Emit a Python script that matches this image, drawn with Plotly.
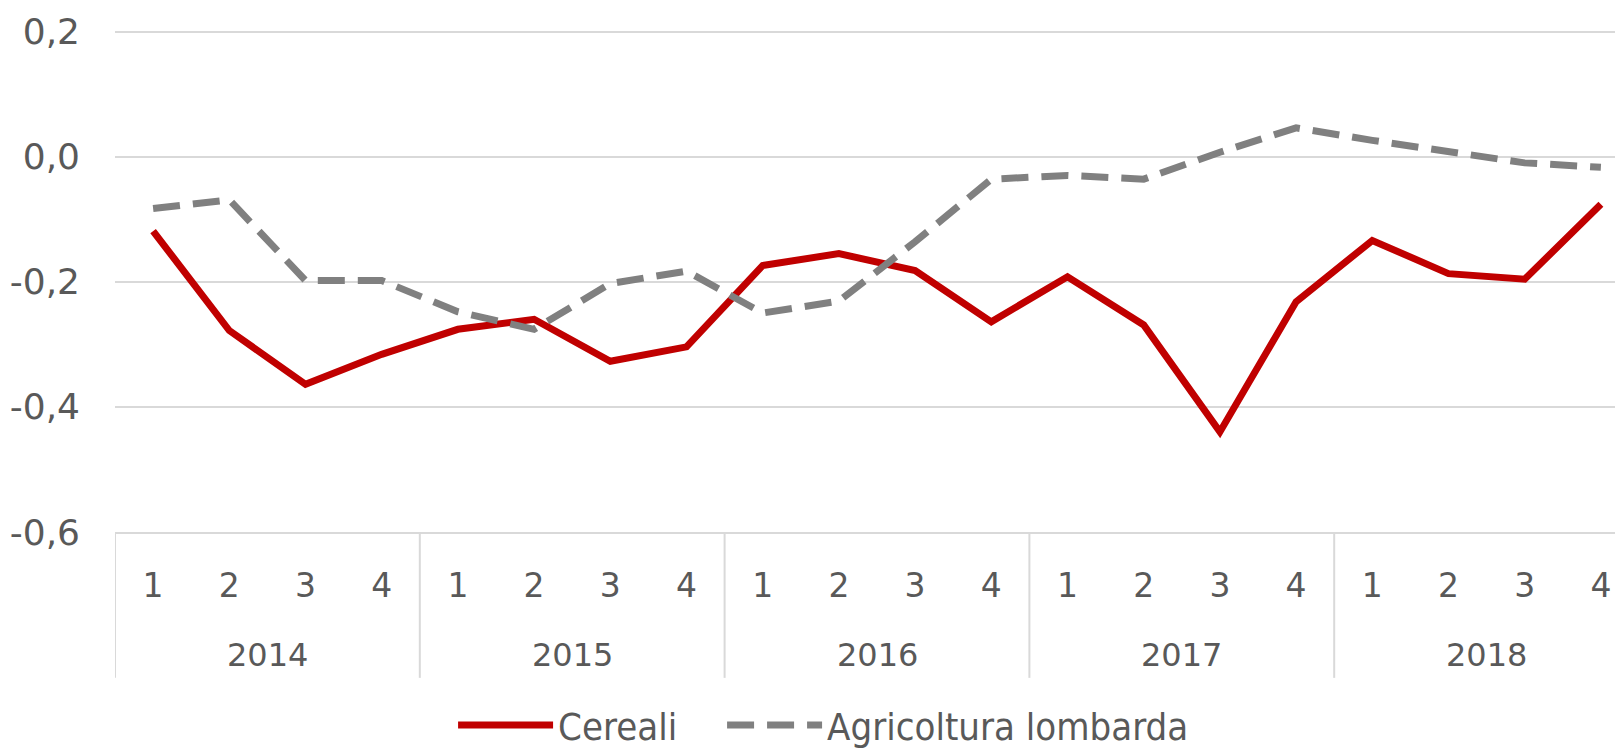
import plotly.graph_objects as go

years = ["2014"] * 4 + ["2015"] * 4 + ["2016"] * 4 + ["2017"] * 4 + ["2018"] * 4
quarters = ["1", "2", "3", "4"] * 5

cereali = [-0.119, -0.278, -0.364, -0.316,
           -0.276, -0.260, -0.327, -0.304,
           -0.174, -0.155, -0.182, -0.264,
           -0.192, -0.269, -0.440, -0.232,
           -0.134, -0.187, -0.196, -0.076]
agricoltura = [-0.083, -0.069, -0.198, -0.198,
               -0.248, -0.276, -0.203, -0.183,
               -0.250, -0.231, -0.136, -0.036,
               -0.030, -0.036, 0.007, 0.046,
               0.026, 0.007, -0.010, -0.017]

y_ticks = [-0.6, -0.4, -0.2, 0.0, 0.2]
y_ticktext = ["-0,6", "-0,4", "-0,2", "0,0", "0,2"]

font_color = "#595959"
grid_color = "#D9D9D9"

idx = list(range(len(quarters)))

fig = go.Figure()
fig.add_trace(go.Scatter(
    x=idx, y=cereali, name="Cereali", mode="lines",
    line=dict(color="#C00000", width=7),
    legendwidth=159,
))
fig.add_trace(go.Scatter(
    x=idx, y=agricoltura, name="Agricoltura lombarda", mode="lines",
    line=dict(color="#808080", width=7, dash="27px,13px"),
))

# year group labels and dividers
groups = []
for i, yr in enumerate(years):
    if not groups or groups[-1][0] != yr:
        groups.append([yr, i, i])
    else:
        groups[-1][2] = i

for yr, start, end in groups:
    fig.add_annotation(x=(start + end) / 2, y=-0.2445, xref="x", yref="paper",
                       text=yr, showarrow=False, yanchor="middle",
                       font=dict(family="DejaVu Sans", size=32, color=font_color))
    fig.add_shape(type="line", xref="x", yref="paper",
                  x0=start - 0.5, x1=start - 0.5, y0=0, y1=-0.290,
                  line=dict(color=grid_color, width=2))

fig.update_layout(
    width=1615, height=741,
    margin=dict(l=107, r=0, t=21, b=217),
    paper_bgcolor="white", plot_bgcolor="white",
    font=dict(family="DejaVu Sans", color=font_color, size=30),
    showlegend=True,
    legend=dict(orientation="h", xref="container", yref="container",
                x=0.505, xanchor="center", y=0.032, yanchor="middle",
                font=dict(family="DejaVu Sans Condensed, DejaVu Sans", size=38, color=font_color),
                itemwidth=95),
)
fig.update_xaxes(
    range=[-0.5, 19.29],
    tickvals=idx, ticktext=quarters,
    showgrid=False, zeroline=False,
    showline=True, linecolor=grid_color, linewidth=2,
    tickfont=dict(size=33, color=font_color),
    ticks="", ticklabelstandoff=23,
    automargin=False,
)
fig.update_yaxes(
    range=[-0.6, 0.204],
    tickvals=y_ticks, ticktext=y_ticktext,
    showgrid=True, gridcolor=grid_color, gridwidth=2,
    zeroline=False, showline=False,
    tickfont=dict(size=36, color=font_color),
    ticklabelstandoff=34,
    automargin=False,
)

fig.write_html("out.html")
